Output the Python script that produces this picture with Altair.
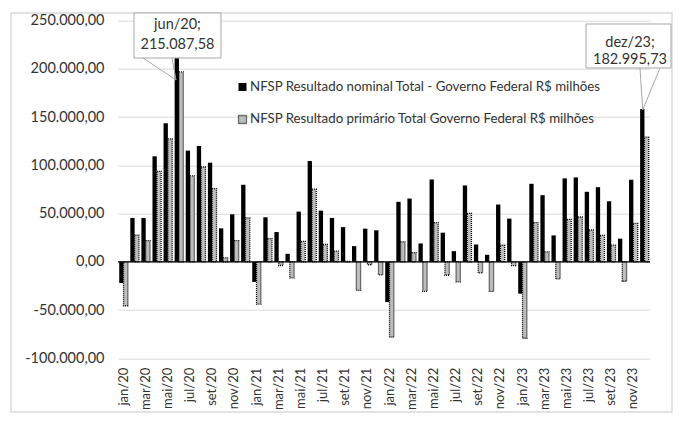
import altair as alt
import pandas as pd

meses = [f"{m}/{a}" for a in ["20", "21", "22", "23"]
         for m in ["jan", "fev", "mar", "abr", "mai", "jun", "jul", "ago", "set", "out", "nov", "dez"]]

series = ["NFSP Resultado nominal Total - Governo Federal R$ milhões",
          "NFSP Resultado primário Total Governo Federal R$ milhões"]

nominal = [-21900, 45500, 45500, 109400, 143750, 215087.58, 115300, 120100, 102800, 34700, 49300, 79900,
           -20800, 46200, 30900, 8300, 52100, 104500, 53100, 45500, 36000, 16300, 34400, 32700,
           -41700, 62200, 65600, 19100, 85400, 30200, 11100, 79200, 18000, 7300, 59400, 44800,
           -33000, 80900, 69100, 27400, 86500, 87500, 72600, 77400, 62800, 24000, 85100, 158500]

primario = [-45500, 27800, 21900, 93750, 127400, 196900, 89200, 98300, 76000, 4200, 21900, 45500,
            -43750, 24000, -3800, -16700, 21200, 75300, 18000, 11100, 500, -29500, -3000, -13500,
            -78100, 20800, 9400, -30600, 40600, -13900, -20800, 50300, -11500, -30600, 17200, -4000,
            -79200, 40600, 10400, -17700, 44100, 46500, 33000, 27400, 17400, -20100, 39900, 129200]

y_ticks = [-100000, -50000, 0, 50000, 100000, 150000, 200000, 250000]
x_labels = meses[::2]

callout_jun = ["jun/20;", "215.087,58"]
callout_dez = ["dez/23;", "182.995,73"]

rows = []
for i, m in enumerate(meses):
    rows.append({"mes": m, "serie": series[0], "valor": nominal[i]})
    rows.append({"mes": m, "serie": series[1], "valor": primario[i]})
df = pd.DataFrame(rows)

FONT = "Lato"
TXT = "#333333"

label_expr = ("replace(replace(replace(replace(format(datum.value, ',.2f'), ',', '_'), '.', ','), '_', '.'), '\u2212', '-')")

x_enc = alt.X("mes:N", sort=meses,
              scale=alt.Scale(paddingInner=0.22, paddingOuter=0.11),
              axis=alt.Axis(values=x_labels, labelAngle=270, labelFont=FONT, labelFontSize=13,
                            labelColor=TXT, labelPadding=9, ticks=False, domain=False,
                            grid=False, title=None))
y_enc = alt.Y("valor:Q",
              scale=alt.Scale(domain=[-100000, 250000], nice=False, zero=False),
              axis=alt.Axis(values=y_ticks, labelExpr=label_expr, grid=True, gridColor="#d9d9d9",
                            gridWidth=1, domain=False, ticks=False, labelPadding=14, title=None,
                            labelFont=FONT, labelFontSize=14.5, labelColor=TXT))
xo_enc = alt.XOffset("serie:N", sort=series, scale=alt.Scale(domain=series, paddingInner=0))

PRI_FILL = "#bdbdbd"

base = alt.Chart(df)
bars_nom = base.transform_filter(alt.datum.serie == series[0]).mark_bar(color="black").encode(
    x=x_enc, y=y_enc, xOffset=xo_enc)
bars_pri = base.transform_filter(alt.datum.serie == series[1]).mark_bar(
    fill=PRI_FILL, stroke="black", strokeWidth=1.3, strokeDash=[1, 1]).encode(
    x=x_enc, y=y_enc, xOffset=xo_enc)

zero = alt.Chart(pd.DataFrame({"z": [0]})).mark_rule(color="black", strokeWidth=1.3).encode(y="z:Q")

dummy = pd.DataFrame({"a": [0]})
frame = alt.Chart(dummy).mark_rect(fill="white", fillOpacity=0, stroke="#d9d9d9", strokeWidth=1.5).encode(
    x=alt.value(-107), x2=alt.value(554), y=alt.value(-7.7), y2=alt.value(391.3))

def box(x1, x2, y1, y2):
    return alt.Chart(dummy).mark_rect(fill="white", stroke="#a6a6a6", strokeWidth=1).encode(
        x=alt.value(x1), x2=alt.value(x2), y=alt.value(y1), y2=alt.value(y2))

def seg(x1, y1, x2, y2):
    return alt.Chart(dummy).mark_rule(color="#a6a6a6", strokeWidth=1).encode(
        x=alt.value(x1), y=alt.value(y1), x2=alt.value(x2), y2=alt.value(y2))

def txt(s, x, y, size=14.5, align="center"):
    return alt.Chart(dummy).mark_text(text=s, font=FONT, fontSize=size, color=TXT, align=align,
                                      baseline="middle").encode(x=alt.value(x), y=alt.value(y))

annots = [
    box(16, 103, -7.7, 37.3),
    seg(25, 37.3, 58, 59.3), seg(54, 37.3, 58, 59.3),
    txt(callout_jun[0], 59.5, 4.5), txt(callout_jun[1], 59.5, 24.5),
    box(468, 553, 3.3, 47.3),
    seg(522, 47.3, 524.7, 89.3), seg(542, 47.3, 524.7, 89.3),
    txt(callout_dez[0], 512, 22), txt(callout_dez[1], 512, 39),
]

leg = [
    alt.Chart(dummy).mark_square(size=64, color="black", opacity=1).encode(
        x=alt.value(124.5), y=alt.value(66.3)),
    alt.Chart(dummy).mark_square(size=64, fill=PRI_FILL, stroke="black", strokeWidth=1.3,
                                 strokeDash=[1, 1], opacity=1, filled=True).encode(
        x=alt.value(124.5), y=alt.value(98.8)),
    txt(series[0], 132, 66.3, size=13.3, align="left"),
    txt(series[1], 132, 98.8, size=13.3, align="left"),
]

chart = alt.layer(frame, bars_nom, bars_pri, zero, *annots, *leg).properties(
    width=532, height=337.6,
    padding={"left": 110, "top": 12.7, "right": 26, "bottom": 60},
    autosize=alt.AutoSizeParams(type="none"),
).configure_view(stroke=None)

chart.save("out.html", embed_options={"renderer": "svg", "actions": False})
